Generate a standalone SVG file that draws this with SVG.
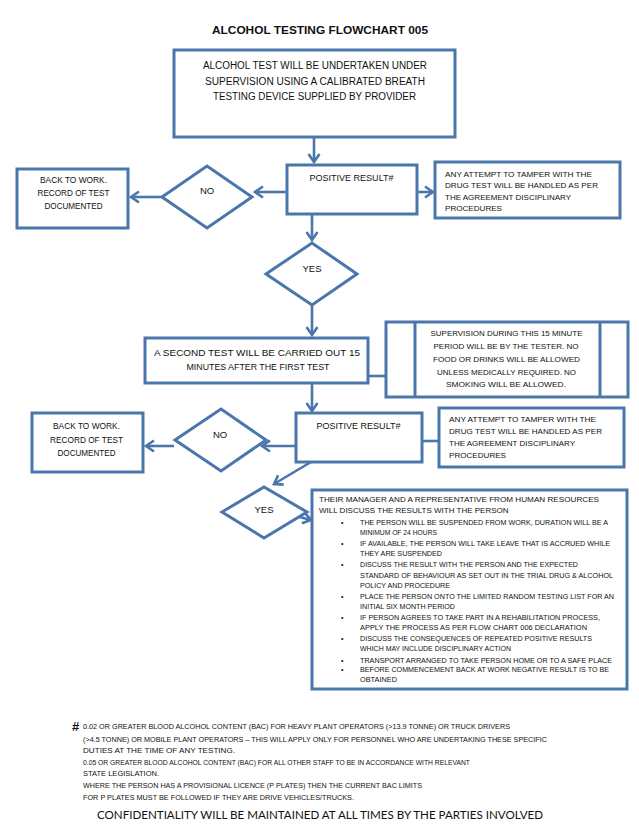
<svg xmlns="http://www.w3.org/2000/svg" width="639" height="831" viewBox="0 0 639 831">
<style>
.box{fill:#fff;stroke:#4a76ac;stroke-width:3}
.con{fill:none;stroke:#4a76ac;stroke-width:2.6}
text{font-family:"Liberation Sans",Arial,sans-serif;fill:#111}
.c{text-anchor:middle}
.t10{font-size:10px}
.t9{font-size:9.5px}
.t8{font-size:8px}
.t7{font-size:7.1px}
.fn{font-size:6.7px}
</style>
<defs>
<marker id="ah" markerUnits="userSpaceOnUse" markerWidth="16" markerHeight="16" viewBox="-12 -8 16 16" refX="0" refY="0" orient="auto">
<path d="M-8,-5.5 L0,0 L-8,5.5" fill="none" stroke="#4a76ac" stroke-width="2.6"/>
</marker>
</defs>
<rect width="639" height="831" fill="#fff"/>
<text id="title" x="320" y="34" class="c" font-size="11.5" font-weight="bold" textLength="216" lengthAdjust="spacingAndGlyphs">ALCOHOL TESTING FLOWCHART 005</text>

<g id="connectors">
<line class="con" x1="314" y1="138" x2="314" y2="162" marker-end="url(#ah)"/>
<line class="con" x1="286" y1="192" x2="255" y2="192" marker-end="url(#ah)"/>
<line class="con" x1="162" y1="197" x2="131" y2="197" marker-end="url(#ah)"/>
<line class="con" x1="417" y1="192" x2="433" y2="192" marker-end="url(#ah)"/>
<line class="con" x1="312" y1="215" x2="312" y2="240" marker-end="url(#ah)"/>
<line class="con" x1="312" y1="305" x2="312" y2="335" marker-end="url(#ah)"/>
<line class="con" x1="368" y1="376" x2="386" y2="376"/>
<line class="con" x1="312" y1="384" x2="312" y2="411" marker-end="url(#ah)"/>
<line class="con" x1="296" y1="446" x2="262" y2="446" marker-end="url(#ah)"/>
<line class="con" x1="174" y1="446" x2="146" y2="446" marker-end="url(#ah)"/>
<line class="con" x1="422" y1="441" x2="439" y2="441"/>
<line class="con" x1="311" y1="462" x2="274" y2="484" marker-end="url(#ah)"/>
<line class="con" x1="292" y1="515" x2="311" y2="520" marker-end="url(#ah)"/>
</g>

<g id="start">
<rect class="box" x="174" y="50" width="281" height="87"/>
<text class="c t10" x="315" y="68.5" textLength="224" lengthAdjust="spacingAndGlyphs">ALCOHOL TEST WILL BE UNDERTAKEN UNDER</text>
<text class="c t10" x="315" y="84.5" textLength="220" lengthAdjust="spacingAndGlyphs">SUPERVISION USING A CALIBRATED BREATH</text>
<text class="c t10" x="314.5" y="99.5" textLength="203" lengthAdjust="spacingAndGlyphs">TESTING DEVICE SUPPLIED BY PROVIDER</text>
</g>

<g id="positive1">
<rect class="box" x="287" y="165" width="130" height="49"/>
<text class="c t9" x="351.5" y="180.5" textLength="84" lengthAdjust="spacingAndGlyphs">POSITIVE RESULT#</text>
</g>

<g id="tamper1">
<rect class="box" x="435" y="162" width="185" height="56"/>
<text class="t8" x="445" y="176.5" textLength="147" lengthAdjust="spacingAndGlyphs">ANY ATTEMPT TO TAMPER WITH THE</text>
<text class="t8" x="445" y="188" textLength="153" lengthAdjust="spacingAndGlyphs">DRUG TEST WILL BE HANDLED AS PER</text>
<text class="t8" x="445" y="199.5" textLength="126" lengthAdjust="spacingAndGlyphs">THE AGREEMENT DISCIPLINARY</text>
<text class="t8" x="445" y="211" textLength="57" lengthAdjust="spacingAndGlyphs">PROCEDURES</text>
</g>

<g id="no1">
<polygon class="box" points="162,197 207,166 252,197 207,228"/>
<text class="c t9" x="207" y="193.5">NO</text>
</g>

<g id="back1">
<rect class="box" x="17" y="169" width="111" height="59"/>
<text class="c" font-size="8.5" x="73.5" y="183" textLength="67" lengthAdjust="spacingAndGlyphs">BACK TO WORK.</text>
<text class="c" font-size="8.5" x="73.5" y="196" textLength="72" lengthAdjust="spacingAndGlyphs">RECORD OF TEST</text>
<text class="c" font-size="8.5" x="73.5" y="208.5" textLength="58" lengthAdjust="spacingAndGlyphs">DOCUMENTED</text>
</g>

<g id="yes1">
<polygon class="box" points="266,274 312,243 357,274 312,305"/>
<text class="c t9" x="312" y="271.5">YES</text>
</g>

<g id="second-test">
<rect class="box" x="145" y="338" width="223" height="45"/>
<text class="c t9" x="257" y="355.5" textLength="206" lengthAdjust="spacingAndGlyphs">A SECOND TEST WILL BE CARRIED OUT 15</text>
<text class="c t9" x="258" y="369.5" textLength="143" lengthAdjust="spacingAndGlyphs">MINUTES AFTER THE FIRST TEST</text>
</g>

<g id="supervision">
<rect class="box" x="386" y="322" width="242" height="75"/>
<line class="box" x1="415" y1="322" x2="415" y2="397"/>
<line class="box" x1="600" y1="322" x2="600" y2="397"/>
<text class="c t8" x="506.5" y="336" textLength="152" lengthAdjust="spacingAndGlyphs">SUPERVISION DURING THIS 15 MINUTE</text>
<text class="c t8" x="506" y="349" textLength="145" lengthAdjust="spacingAndGlyphs">PERIOD WILL BE BY THE TESTER. NO</text>
<text class="c t8" x="506.5" y="362" textLength="147" lengthAdjust="spacingAndGlyphs">FOOD OR DRINKS WILL BE ALLOWED</text>
<text class="c t8" x="506.5" y="374.5" textLength="139" lengthAdjust="spacingAndGlyphs">UNLESS MEDICALLY REQUIRED. NO</text>
<text class="c t8" x="506" y="387" textLength="120" lengthAdjust="spacingAndGlyphs">SMOKING WILL BE ALLOWED.</text>
</g>

<g id="positive2">
<rect class="box" x="296" y="413" width="126" height="49"/>
<text class="c t9" x="358.5" y="428.5" textLength="84" lengthAdjust="spacingAndGlyphs">POSITIVE RESULT#</text>
</g>

<g id="tamper2">
<rect class="box" x="439" y="408" width="185" height="59"/>
<text class="t8" x="449" y="422" textLength="147" lengthAdjust="spacingAndGlyphs">ANY ATTEMPT TO TAMPER WITH THE</text>
<text class="t8" x="449" y="434" textLength="153" lengthAdjust="spacingAndGlyphs">DRUG TEST WILL BE HANDLED AS PER</text>
<text class="t8" x="449" y="446" textLength="126" lengthAdjust="spacingAndGlyphs">THE AGREEMENT DISCIPLINARY</text>
<text class="t8" x="449" y="458" textLength="57" lengthAdjust="spacingAndGlyphs">PROCEDURES</text>
</g>

<g id="no2">
<polygon class="box" points="175,440 221,409 266,440 221,471"/>
<text class="c t9" x="220" y="437.5">NO</text>
</g>

<g id="back2">
<rect class="box" x="32" y="413" width="111" height="59"/>
<text class="c" font-size="8.5" x="86.5" y="429" textLength="67" lengthAdjust="spacingAndGlyphs">BACK TO WORK.</text>
<text class="c" font-size="8.5" x="86.5" y="442.5" textLength="73" lengthAdjust="spacingAndGlyphs">RECORD OF TEST</text>
<text class="c" font-size="8.5" x="86.5" y="456" textLength="58" lengthAdjust="spacingAndGlyphs">DOCUMENTED</text>
</g>

<g id="yes2">
<polygon class="box" points="222,512 264,487 307,512 264,538"/>
<text class="c t9" x="264" y="512.5">YES</text>
</g>

<g id="actions">
<rect class="box" x="312" y="490" width="315" height="199"/>
<text class="t8" x="319" y="502" textLength="280" lengthAdjust="spacingAndGlyphs">THEIR MANAGER AND A REPRESENTATIVE FROM HUMAN RESOURCES</text>
<text class="t8" x="319" y="513">WILL DISCUSS THE RESULTS WITH THE PERSON</text>
<g class="t7">
<text x="341" y="525">•</text>
<text x="360" y="525" textLength="248" lengthAdjust="spacingAndGlyphs">THE PERSON WILL BE SUSPENDED FROM WORK, DURATION WILL BE A</text>
<text x="360" y="535" textLength="77" lengthAdjust="spacingAndGlyphs">MINIMUM OF 24 HOURS</text>
<text x="341" y="546">•</text>
<text x="360" y="546" textLength="250" lengthAdjust="spacingAndGlyphs">IF AVAILABLE, THE PERSON WILL TAKE LEAVE THAT IS ACCRUED WHILE</text>
<text x="360" y="556" textLength="82" lengthAdjust="spacingAndGlyphs">THEY ARE SUSPENDED</text>
<text x="341" y="567">•</text>
<text x="360" y="567" textLength="218" lengthAdjust="spacingAndGlyphs">DISCUSS THE RESULT WITH THE PERSON AND THE EXPECTED</text>
<text x="360" y="577.5" textLength="253" lengthAdjust="spacingAndGlyphs">STANDARD OF BEHAVIOUR AS SET OUT IN THE TRIAL DRUG &amp; ALCOHOL</text>
<text x="360" y="588" textLength="90" lengthAdjust="spacingAndGlyphs">POLICY AND PROCEDURE</text>
<text x="341" y="599">•</text>
<text x="360" y="599" textLength="254" lengthAdjust="spacingAndGlyphs">PLACE THE PERSON ONTO THE LIMITED RANDOM TESTING LIST FOR AN</text>
<text x="360" y="608.5" textLength="95" lengthAdjust="spacingAndGlyphs">INITIAL SIX MONTH PERIOD</text>
<text x="341" y="619.5">•</text>
<text x="360" y="619.5" textLength="240" lengthAdjust="spacingAndGlyphs">IF PERSON AGREES TO TAKE PART IN A REHABILITATION PROCESS,</text>
<text x="360" y="629.5" textLength="227" lengthAdjust="spacingAndGlyphs">APPLY THE PROCESS AS PER FLOW CHART 006 DECLARATION</text>
<text x="341" y="641">•</text>
<text x="360" y="641" textLength="232" lengthAdjust="spacingAndGlyphs">DISCUSS THE CONSEQUENCES OF REPEATED POSITIVE RESULTS</text>
<text x="360" y="651" textLength="151" lengthAdjust="spacingAndGlyphs">WHICH MAY INCLUDE DISCIPLINARY ACTION</text>
<text x="341" y="662.5">•</text>
<text x="360" y="662.5" textLength="252" lengthAdjust="spacingAndGlyphs">TRANSPORT ARRANGED TO TAKE PERSON HOME OR TO A SAFE PLACE</text>
<text x="341" y="672">•</text>
<text x="360" y="672" textLength="249" lengthAdjust="spacingAndGlyphs">BEFORE COMMENCEMENT BACK AT WORK NEGATIVE RESULT IS TO BE</text>
<text x="360" y="682" textLength="37" lengthAdjust="spacingAndGlyphs">OBTAINED</text>
</g>
</g>

<g id="footnote">
<text x="72" y="731" font-size="13" font-weight="bold">#</text>
<text class="fn" x="83" y="729" textLength="427" lengthAdjust="spacingAndGlyphs">0.02 OR GREATER BLOOD ALCOHOL CONTENT (BAC) FOR HEAVY PLANT OPERATORS (&gt;13.9 TONNE) OR TRUCK DRIVERS</text>
<text class="fn" x="83" y="741.5" textLength="464" lengthAdjust="spacingAndGlyphs">(&gt;4.5 TONNE) OR MOBILE PLANT OPERATORS – THIS WILL APPLY ONLY FOR PERSONNEL WHO ARE UNDERTAKING THESE SPECIFIC</text>
<text class="fn" x="83" y="753" textLength="152" lengthAdjust="spacingAndGlyphs">DUTIES AT THE TIME OF ANY TESTING.</text>
<text class="fn" x="83" y="764.5" textLength="387" lengthAdjust="spacingAndGlyphs">0.05 OR GREATER BLOOD ALCOHOL CONTENT (BAC) FOR ALL OTHER STAFF TO BE IN ACCORDANCE WITH RELEVANT</text>
<text class="fn" x="83" y="775.5" textLength="76" lengthAdjust="spacingAndGlyphs">STATE LEGISLATION.</text>
<text class="fn" x="83" y="787.5" textLength="339" lengthAdjust="spacingAndGlyphs">WHERE THE PERSON HAS A PROVISIONAL LICENCE (P PLATES) THEN THE CURRENT BAC LIMITS</text>
<text class="fn" x="83" y="799.5" textLength="271" lengthAdjust="spacingAndGlyphs">FOR P PLATES MUST BE FOLLOWED IF THEY ARE DRIVE VEHICLES/TRUCKS.</text>
</g>

<text id="confidentiality" class="c" x="320" y="819" font-size="11.5" style="font-family:Lato,'Liberation Sans',sans-serif;font-weight:400" fill="#222" textLength="446" lengthAdjust="spacingAndGlyphs">CONFIDENTIALITY WILL BE MAINTAINED AT ALL TIMES BY THE PARTIES INVOLVED</text>
</svg>
